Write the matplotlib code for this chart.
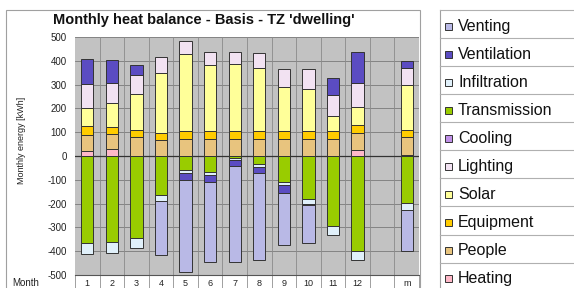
import numpy as np
import matplotlib
matplotlib.use("Agg")
import matplotlib.pyplot as plt
from matplotlib.patches import Rectangle
from matplotlib.lines import Line2D
import matplotlib.transforms as mtransforms

plt.rcParams['font.family'] = ['Liberation Sans', 'DejaVu Sans']

categories = ['1', '2', '3', '4', '5', '6', '7', '8', '9', '10', '11', '12', '', 'm']

# stacking order (bottom-up); legend shows the reverse
series_names = ['Heating', 'People', 'Equipment', 'Solar', 'Lighting', 'Cooling',
                'Transmission', 'Infiltration', 'Ventilation', 'Venting']

heating      = [20, 31, 2, 0, 0, 0, 0, 0, 0, 0, 2, 24, 0, 6]
people       = [70, 60, 78, 69, 72, 72, 72, 72, 72, 72, 70, 74, 0, 74]
equipment    = [35, 30, 31, 29, 33, 32, 32, 32, 32, 32, 32, 34, 0, 28]
solar        = [77, 102, 149, 249, 322, 278, 281, 264, 187, 176, 64, 74, 0, 190]
lighting     = [100, 85, 80, 70, 56, 56, 53, 63, 73, 84, 88, 99, 0, 73]
cooling      = [0, 0, 0, 0, 0, 0, 0, 0, 0, 0, 0, 0, 0, 0]
transmission = [-365, -361, -344, -163, -57, -67, -7, -35, -109, -180, -296, -400, 0, -198]
infiltration = [-46, -47, -42, -28, -14, -11, -8, -11, -14, -21, -34, -39, 0, -27]
ventilation  = [104, 94, 42, 0, -31, -31, -27, -24, -31, -4, 70, 130, 0, 28]
venting      = [0, 0, 0, -227, -386, -337, -404, -365, -218, -161, 0, 0, 0, -176]

series_values = [heating, people, equipment, solar, lighting, cooling,
                 transmission, infiltration, ventilation, venting]
series_colors = ['#ffb8c8', '#e8c47e', '#ffcc00', '#ffff99', '#f2e2f2', '#c090e8',
                 '#99cc00', '#e0f0fa', '#5b4cc2', '#b9b9e6']

yticks = [-500, -400, -300, -200, -100, 0, 100, 200, 300, 400, 500]

W, H = 574, 288
fig = plt.figure(figsize=(W / 100, H / 100), dpi=100)

def fx(x):
    return x / W

def fy(y):
    return 1 - y / H

# outer chart frame
fig.patches.append(Rectangle((fx(6), fy(300)), fx(420) - fx(6), fy(10) - fy(300),
                             transform=fig.transFigure, fill=False,
                             edgecolor='#a0a0a0', linewidth=0.8))

ax_l, ax_r, ax_t, ax_b = 75, 419, 37, 275
ax = fig.add_axes([fx(ax_l), fy(ax_b), fx(ax_r) - fx(ax_l), fy(ax_t) - fy(ax_b)])
ax.set_facecolor('#c2c2c2')

x = np.arange(len(categories))
pos_bottom = np.zeros(len(categories))
neg_bottom = np.zeros(len(categories))
for vals, col in zip(series_values, series_colors):
    v = np.array(vals, dtype=float)
    for i in range(len(v)):
        if v[i] == 0:
            continue
        if v[i] > 0:
            b = pos_bottom[i]
            pos_bottom[i] += v[i]
        else:
            b = neg_bottom[i]
            neg_bottom[i] += v[i]
        ax.bar(x[i], v[i], bottom=b, width=0.5, color=col,
               edgecolor='#333333', linewidth=0.7, zorder=3)

ax.set_xlim(-0.5, len(categories) - 0.5)
ax.set_ylim(-500, 500)
ax.set_yticks(yticks)
ax.set_yticklabels([str(t) for t in yticks], fontsize=7, color='#222222')
ax.tick_params(axis='y', length=0, pad=6)
for t in yticks:
    ax.axhline(t, color='#7a7a7a', linewidth=0.6, zorder=1)
ax.axhline(0, color='#333333', linewidth=0.9, zorder=2)
for b in np.arange(0.5, len(categories) - 0.5, 1):
    ax.axvline(b, color='#8a8a8a', linewidth=0.6, zorder=1)
for s in ax.spines.values():
    s.set_visible(False)

# month row below the plot
ax.set_xticks(x)
ax.set_xticklabels(categories, fontsize=6.5, color='#222222')
ax.tick_params(axis='x', length=0, pad=3)
row_h = (288 - ax_b) / (ax_b - ax_t)
ax.add_patch(Rectangle((0, -row_h), 1, row_h, transform=ax.transAxes,
                       facecolor='white', edgecolor='none', clip_on=False, zorder=0))
trans = mtransforms.blended_transform_factory(ax.transData, ax.transAxes)
for b in np.arange(-0.5, len(categories), 1):
    ax.add_line(Line2D([b, b], [-row_h, 0], transform=trans, color='#909090',
                       linewidth=0.6, clip_on=False))
ax.add_line(Line2D([-0.5, len(categories) - 0.5], [0, 0], transform=trans,
                   color='#555555', linewidth=0.8, clip_on=False))

fig.text(fx(12), fy(283), 'Month', fontsize=7, va='center', ha='left', color='#222222')
fig.text(fx(22), fy(140), 'Monthly energy [kWh]', fontsize=6.5, rotation=90,
         va='center', ha='center', color='#222222')
fig.text(fx(53), fy(20), "Monthly heat balance - Basis - TZ 'dwelling'",
         fontsize=10.5, fontweight='bold', va='center', ha='left', color='#111111')

# legend table on the right
leg_top, row_step = 10, 28.07
fig.add_artist(Line2D([fx(440), fx(440)], [fy(leg_top), fy(292)],
                      transform=fig.transFigure, color='#a0a0a0', linewidth=0.8))
legend_names = series_names[::-1]
legend_colors = series_colors[::-1]
for k, (name, col) in enumerate(zip(legend_names, legend_colors)):
    ytop = leg_top + k * row_step
    fig.add_artist(Line2D([fx(440), fx(574)], [fy(ytop), fy(ytop)],
                          transform=fig.transFigure, color='#b0b0b0', linewidth=0.8))
    yc = ytop + row_step / 2 + 2
    sq = 7
    fig.patches.append(Rectangle((fx(445), fy(yc + sq / 2)), sq / W, sq / H,
                                 transform=fig.transFigure, facecolor=col,
                                 edgecolor='#333333', linewidth=0.7))
    fig.text(fx(458), fy(yc), name, fontsize=11.5, va='center', ha='left', color='#111111')

fig.savefig('out.png', dpi=100)
